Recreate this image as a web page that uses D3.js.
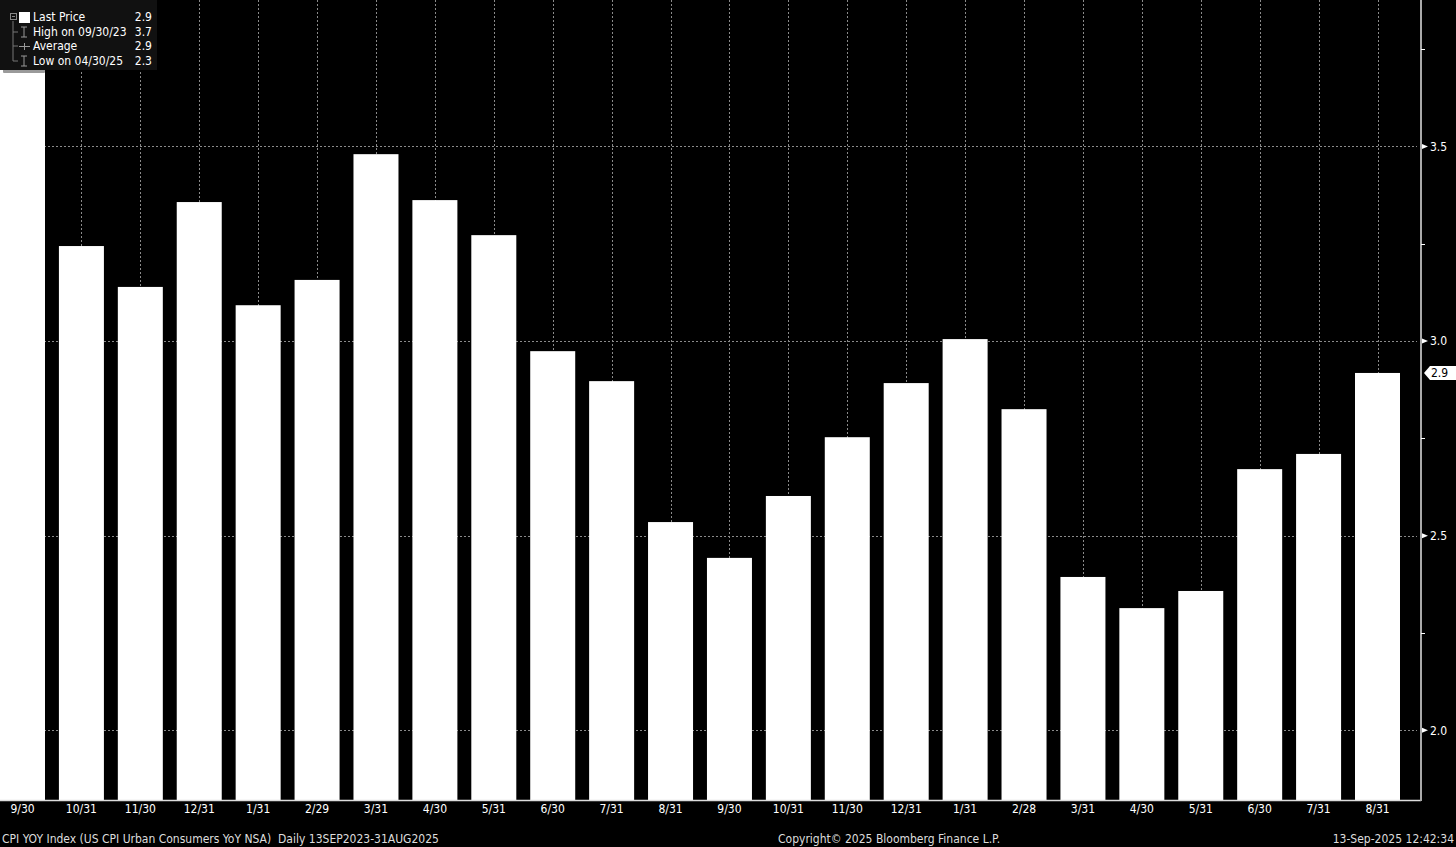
<!DOCTYPE html>
<html>
<head>
<meta charset="utf-8">
<script src="https://cdn.jsdelivr.net/npm/d3@7"></script>
<style>
html,body{margin:0;padding:0;background:#000;}
svg{display:block;}
text{font-family:"DejaVu Sans Condensed","DejaVu Sans",sans-serif;}
</style>
</head>
<body>
<svg id="chart" width="1456" height="847"></svg>
<script>
const categories = ["9/30","10/31","11/30","12/31","1/31","2/29","3/31","4/30","5/31","6/30","7/31","8/31",
                    "9/30","10/31","11/30","12/31","1/31","2/28","3/31","4/30","5/31","6/30","7/31","8/31"];
const values = [3.700,3.244,3.139,3.357,3.092,3.157,3.480,3.362,3.272,2.974,2.897,2.535,
                2.443,2.602,2.753,2.892,3.005,2.825,2.394,2.314,2.358,2.671,2.710,2.918];
const yTicks = [2.0,2.5,3.0,3.5];
const yMinorTicks = [2.25,2.75,3.25,3.75];
const legendRows = [["Last Price","2.9"],["High on 09/30/23","3.7"],["Average","2.9"],["Low on 04/30/25","2.3"]];
const lastPrice = 2.918;
const footerLeft = "CPI YOY Index (US CPI Urban Consumers YoY NSA)  Daily 13SEP2023-31AUG2025";
const footerMid = "Copyright\u00A9 2025 Bloomberg Finance L.P.";
const footerRight = "13-Sep-2025 12:42:34";

const svg = d3.select("#chart");
const W = 1456, H = 847;
const plotRight = 1421, plotBottom = 800;
const idx = categories.map((d,i)=>i);
const x = d3.scalePoint().domain(idx).range([22.5, 1377.5]);
const barW = 45;
const y = d3.scaleLinear().domain([1.8211, 3.876]).range([plotBottom, 0]);

svg.append("rect").attr("width",W).attr("height",H).attr("fill","#000");

// gridlines
const grid = svg.append("g");
grid.selectAll("line.h").data(yTicks).join("line")
  .attr("x1",0).attr("x2",plotRight-4)
  .attr("y1",d=>Math.round(y(d))+0.5).attr("y2",d=>Math.round(y(d))+0.5)
  .attr("stroke","#8a8a8a").attr("stroke-width",1).attr("stroke-dasharray","2,2");
grid.selectAll("line.v").data(idx).join("line")
  .attr("x1",d=>Math.round(x(d))+0.5).attr("x2",d=>Math.round(x(d))+0.5)
  .attr("y1",0).attr("y2",plotBottom)
  .attr("stroke","#8a8a8a").attr("stroke-width",1).attr("stroke-dasharray","2,2");

// bars
svg.append("g").selectAll("rect").data(values).join("rect")
  .attr("x",(d,i)=>x(i)-barW/2).attr("width",barW)
  .attr("y",d=>y(d)).attr("height",d=>plotBottom-y(d))
  .attr("fill","#fff");

// bottom and right axis lines
svg.append("line").attr("x1",0).attr("x2",plotRight).attr("y1",plotBottom+0.5).attr("y2",plotBottom+0.5)
  .attr("stroke","#ddd").attr("stroke-width",1.5);
svg.append("line").attr("x1",plotRight).attr("x2",plotRight).attr("y1",0).attr("y2",plotBottom+1)
  .attr("stroke","#aaa").attr("stroke-width",2);

// right axis ticks
const ya = svg.append("g");
yTicks.forEach(t=>{
  const yy = y(t);
  ya.append("path").attr("d",`M${plotRight+1},${yy-2.5} L${plotRight+7},${yy} L${plotRight+1},${yy+2.5}Z`).attr("fill","#fff");
  ya.append("text").attr("x",plotRight+9).attr("y",yy).attr("dy","0.35em")
    .attr("fill","#fff").attr("font-size",12).text(d3.format(".1f")(t));
});
yMinorTicks.forEach(t=>{
  const yy = Math.round(y(t))+0.5;
  ya.append("line").attr("x1",plotRight).attr("x2",plotRight+4).attr("y1",yy).attr("y2",yy).attr("stroke","#fff");
});

// last price tag
const ly = y(lastPrice);
svg.append("path").attr("d",`M${plotRight+3},${ly} L${plotRight+9},${ly-7} L${W},${ly-7} L${W},${ly+7} L${plotRight+9},${ly+7}Z`)
  .attr("fill","#fff");
svg.append("text").attr("x",plotRight+10).attr("y",ly).attr("dy","0.36em").attr("fill","#000")
  .attr("font-size",12).text(d3.format(".1f")(lastPrice));

// x labels
svg.append("g").selectAll("text").data(categories).join("text")
  .attr("x",(d,i)=>x(i)).attr("y",809).attr("dy","0.35em").attr("text-anchor","middle")
  .attr("fill","#fff").attr("font-size",12).text(d=>d);

// footer
svg.append("text").attr("x",2).attr("y",839).attr("dy","0.35em").attr("fill","#ddd").attr("font-size",12).attr("xml:space","preserve").text(footerLeft);
svg.append("text").attr("x",778).attr("y",839).attr("dy","0.35em").attr("fill","#ddd").attr("font-size",12).text(footerMid);
svg.append("text").attr("x",1454).attr("y",839).attr("dy","0.35em").attr("text-anchor","end").attr("fill","#ddd").attr("font-size",12).text(footerRight);

// legend
const lg = svg.append("g");
lg.append("rect").attr("x",3).attr("y",66).attr("width",42).attr("height",7).attr("fill","#9a9a9a").attr("rx",1);
lg.append("rect").attr("x",0).attr("y",0).attr("width",157).attr("height",70).attr("fill","#111");
const rowY = [17,32,46,61];
// tree connectors
lg.append("path").attr("d","M13,21 V61 M13,32 H18 M13,46 H18 M13,61 H18").attr("stroke","#777").attr("fill","none");
lg.append("rect").attr("x",10.5).attr("y",13.5).attr("width",6).attr("height",6).attr("fill","none").attr("stroke","#888");
lg.append("line").attr("x1",12).attr("x2",15).attr("y1",16.5).attr("y2",16.5).attr("stroke","#888");
lg.append("rect").attr("x",19).attr("y",12).attr("width",11).attr("height",11).attr("fill","#fff");
// high / low I icons
[32,61].forEach(yy=>{
  lg.append("path").attr("d",`M21,${yy-5} H27 M24,${yy-5} V${yy+5} M21,${yy+5} H27`).attr("stroke","#999").attr("fill","none");
});
lg.append("path").attr("d","M19,46.5 H30 M24.5,43 V50").attr("stroke","#999").attr("fill","none");
legendRows.forEach((r,i)=>{
  lg.append("text").attr("x",33).attr("y",rowY[i]).attr("dy","0.35em").attr("fill","#fff").attr("font-size",12).text(r[0]);
  lg.append("text").attr("x",152).attr("y",rowY[i]).attr("dy","0.35em").attr("text-anchor","end").attr("fill","#fff").attr("font-size",12).text(r[1]);
});
</script>
</body>
</html>
